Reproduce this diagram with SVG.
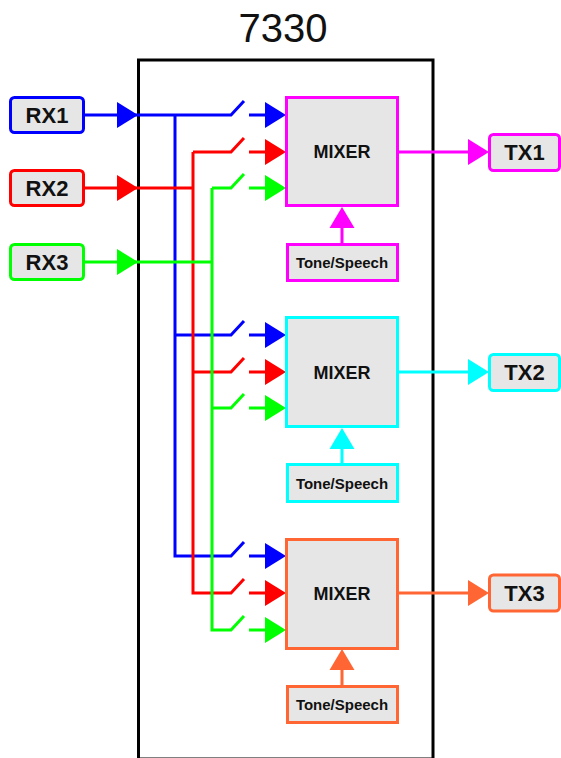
<svg xmlns="http://www.w3.org/2000/svg" xmlns:xlink="http://www.w3.org/1999/xlink" width="561" height="758" viewBox="0 0 561 758">
<style>
.t{font-family:"Liberation Sans",Arial,sans-serif;font-weight:bold;fill:#111;text-anchor:middle}
.box{fill:#e6e6e6;stroke-width:3}
.ln{fill:none;stroke-width:3}
.b{stroke:#0000ff}.r{stroke:#ff0000}.g{stroke:#00ff00}.m{stroke:#ff00ff}.c{stroke:#00ffff}.o{stroke:#ff6633}
</style>
<defs>
<polygon id="ar" points="0,0 -21,-13 -21,13"/>
<polygon id="au" points="0,0 -12.5,21 12.5,21"/>
</defs>
<rect width="561" height="758" fill="#fff"/>
<text x="283" y="42" font-family="Liberation Sans,Arial,sans-serif" font-size="40" text-anchor="middle" fill="#111">7330</text>
<g id="chip"><rect x="138.5" y="60" width="294.5" height="699" fill="none" stroke="#000" stroke-width="3"/></g>

<g id="connectors">
<path class="ln b" d="M85,115H231L244,101M175,115V556H231L244,542M175,335H231L244,321M249,115H266M249,335H266M249,556H266"/>
<path class="ln r" d="M85,188H193M193,152V593H231L244,579M193,152H231L244,138M193,372H231L244,358M249,152H266M249,372H266M249,593H266"/>
<path class="ln g" d="M85,262H212M212,188V630H231L244,616M212,188H231L244,174M212,408H231L244,394M249,188H266M249,408H266M249,630H266"/>
<use xlink:href="#ar" x="138" y="115" fill="#0000ff"/>
<use xlink:href="#ar" x="138" y="188" fill="#ff0000"/>
<use xlink:href="#ar" x="138" y="262" fill="#00ff00"/>
<use xlink:href="#ar" x="286" y="115" fill="#0000ff"/>
<use xlink:href="#ar" x="286" y="152" fill="#ff0000"/>
<use xlink:href="#ar" x="286" y="188" fill="#00ff00"/>
<use xlink:href="#ar" x="286" y="335" fill="#0000ff"/>
<use xlink:href="#ar" x="286" y="372" fill="#ff0000"/>
<use xlink:href="#ar" x="286" y="408" fill="#00ff00"/>
<use xlink:href="#ar" x="286" y="556" fill="#0000ff"/>
<use xlink:href="#ar" x="286" y="593" fill="#ff0000"/>
<use xlink:href="#ar" x="286" y="630" fill="#00ff00"/>
<path class="ln m" d="M398,152H470M342,244V225"/>
<path class="ln c" d="M398,372H470M342,464V445"/>
<path class="ln o" d="M398,593H470M342,686V667"/>
<use xlink:href="#ar" x="489" y="152" fill="#ff00ff"/>
<use xlink:href="#ar" x="489" y="372" fill="#00ffff"/>
<use xlink:href="#ar" x="489" y="593" fill="#ff6633"/>
<use xlink:href="#au" x="342" y="207" fill="#ff00ff"/>
<use xlink:href="#au" x="342" y="428" fill="#00ffff"/>
<use xlink:href="#au" x="342" y="649" fill="#ff6633"/>
</g>

<g id="rx1"><rect class="box b" x="10.5" y="97.5" width="73" height="35" rx="4"/><text class="t" x="47" y="123" font-size="22">RX1</text></g>
<g id="rx2"><rect class="box r" x="10.5" y="170.5" width="73" height="35" rx="4"/><text class="t" x="47" y="196" font-size="22">RX2</text></g>
<g id="rx3"><rect class="box g" x="10.5" y="244.5" width="73" height="35" rx="4"/><text class="t" x="47" y="270" font-size="22">RX3</text></g>

<g id="mixer1"><rect class="box m" x="286.5" y="97.5" width="111" height="108"/><text class="t" x="342" y="158" font-size="18">MIXER</text></g>
<g id="tone1"><rect class="box m" x="287.5" y="244.5" width="110" height="36"/><text class="t" x="342" y="268" font-size="15">Tone/Speech</text></g>
<g id="mixer2"><rect class="box c" x="286.5" y="317.5" width="111" height="109"/><text class="t" x="342" y="378.5" font-size="18">MIXER</text></g>
<g id="tone2"><rect class="box c" x="287.5" y="464.5" width="110" height="37"/><text class="t" x="342" y="488.5" font-size="15">Tone/Speech</text></g>
<g id="mixer3"><rect class="box o" x="286.5" y="539.5" width="111" height="109"/><text class="t" x="342" y="600" font-size="18">MIXER</text></g>
<g id="tone3"><rect class="box o" x="287.5" y="686.5" width="110" height="36"/><text class="t" x="342" y="710" font-size="15">Tone/Speech</text></g>

<g id="tx1"><rect class="box m" x="489.5" y="134.5" width="70" height="36" rx="4"/><text class="t" x="524.5" y="160" font-size="22">TX1</text></g>
<g id="tx2"><rect class="box c" x="489.5" y="354.5" width="70" height="36" rx="4"/><text class="t" x="524.5" y="380" font-size="22">TX2</text></g>
<g id="tx3"><rect class="box o" x="489.5" y="575" width="70" height="36" rx="4"/><text class="t" x="524.5" y="600.5" font-size="22">TX3</text></g>
</svg>
